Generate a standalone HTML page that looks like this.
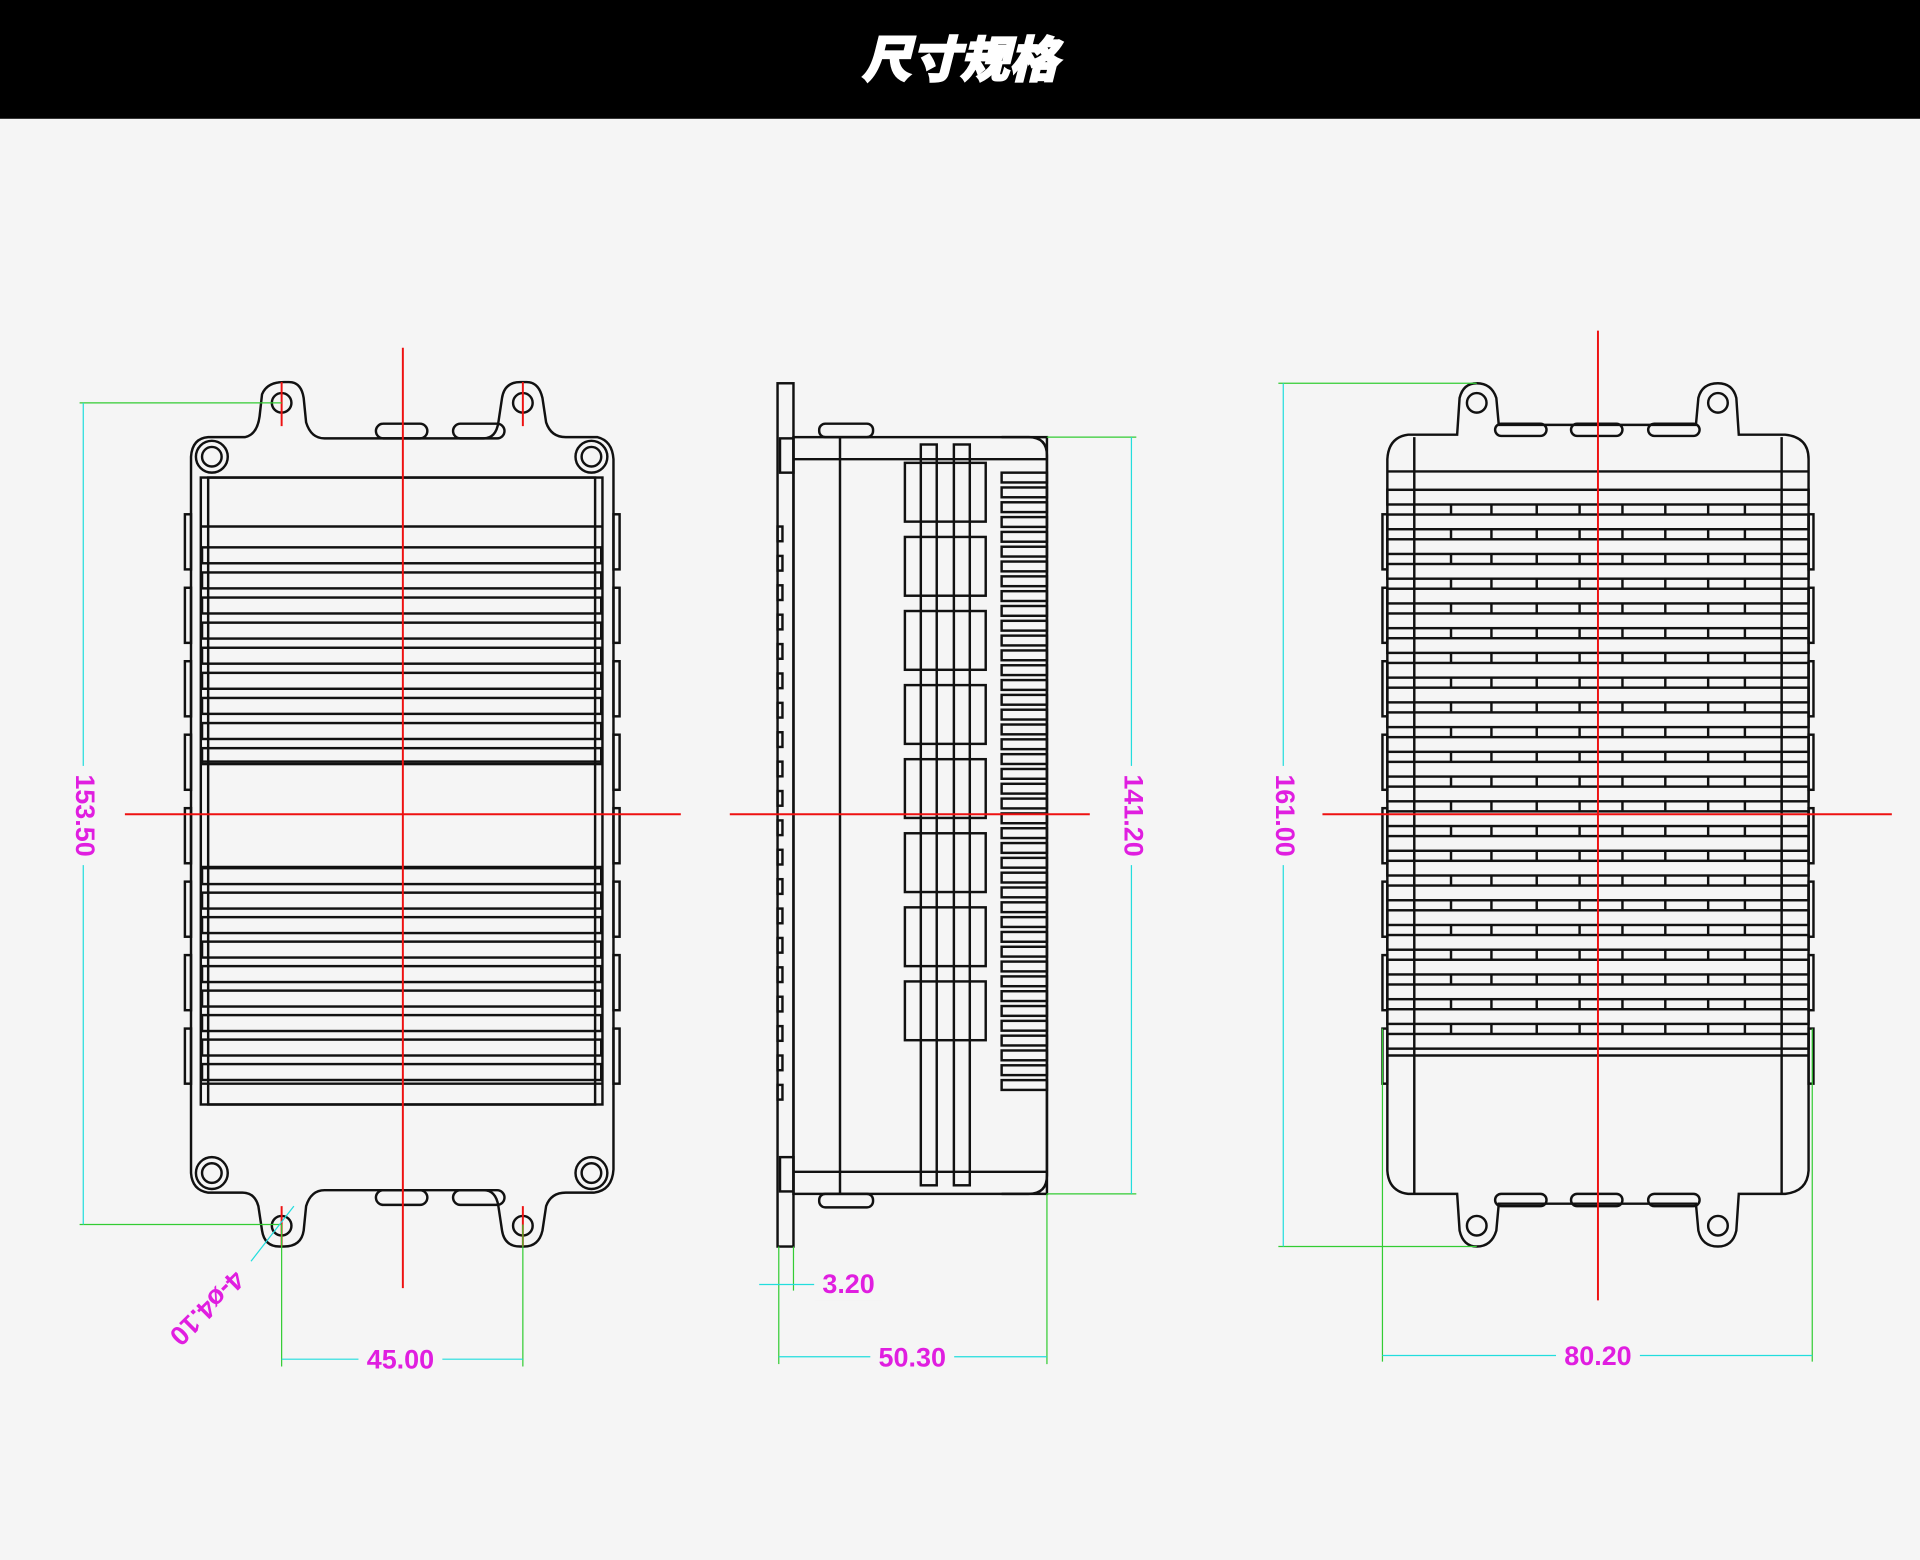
<!DOCTYPE html>
<html><head><meta charset="utf-8">
<style>
html,body{margin:0;padding:0;background:#f5f5f5;}
svg{display:block;}
</style></head>
<body>
<svg id="s" width="1920" height="1560" viewBox="0 0 1568 1274" preserveAspectRatio="none" xmlns="http://www.w3.org/2000/svg">
<rect x="0" y="0" width="1568" height="1274" fill="#f5f5f5"/>
<rect x="0" y="0" width="1568" height="97" fill="#000"/>
<text x="784" y="63" text-anchor="middle" fill="#fff" stroke="#fff" stroke-width="1.5" font-size="40" font-weight="900" font-style="italic" font-family="'Liberation Sans','Noto Sans CJK SC',sans-serif">尺寸规格</text>
<g id="g" fill="none" stroke="#111" stroke-width="2"></g>
<g id="d"></g>
</svg>
<script>
const g=document.getElementById('g'),d=document.getElementById('d');
const NS='http://www.w3.org/2000/svg';
function el(p,t,a,txt){const e=document.createElementNS(NS,t);for(const k in a)e.setAttribute(k,a[k]);if(txt)e.textContent=txt;p.appendChild(e);return e;}
function R(x,y,w,h,rx){el(g,'rect',{x,y,width:w,height:h,rx:rx||0});}
function L(x1,y1,x2,y2,c,w,p){el(p||g,'line',{x1,y1,x2,y2,stroke:c||'#111','stroke-width':w||2});}
function C(cx,cy,r){el(g,'circle',{cx,cy,r});}
function T(x,y,s,rot){const tr=rot!=null?`rotate(${rot} ${x} ${y})`:'';
 const w=s.length*12.5+6;el(d,'rect',{x:x-w/2,y:y-12,width:w,height:24,fill:'#f5f5f5',transform:tr});
 const a={x,y,fill:'#e01ee0','font-size':22,'font-weight':'bold','font-family':'Liberation Sans,sans-serif','text-anchor':'middle','dominant-baseline':'middle'};if(tr)a.transform=tr;el(d,'text',a,s);}
const cy='#22dddd',gr='#33cc33',red='#ee1111';
// LEFT
el(g,'path',{d:'M170 357 L200 357 Q210 355 212 340 L214 322 Q218 312 232 312 L236 312 Q246 312 248 325 L250 345 Q254 358 265 358 L395 358 Q405 358 407 345 L410 325 Q412 312 425 312 L430 312 Q440 312 443 325 L446 345 Q450 357 462 357 L488 357 Q500 360 501 375 L501 955 Q500 972 485 974 L462 974 Q450 974 446 985 L443 1005 Q440 1018 428 1018 L425 1018 Q412 1018 410 1005 L407 985 Q405 972 395 972 L265 972 Q254 972 250 985 L248 1005 Q246 1018 232 1018 L228 1018 Q216 1018 214 1005 L211 985 Q208 974 198 974 L170 974 Q157 972 156 958 L156 373 Q157 358 170 357 Z'});
R(164,390,328,512);R(170,390,316,512);
[[173,373],[483,373],[173,958],[483,958]].forEach(p=>{C(p[0],p[1],13);C(p[0],p[1],8);});
[[230,329],[427,329],[230,1001],[427,1001]].forEach(p=>C(p[0],p[1],8));
L(164,430,492,430);L(164,622,492,622);L(164,708,492,708);L(164,885,492,885);
for(let i=0;i<9;i++)R(165,447+i*20.5,326,13);
for(let i=0;i<9;i++)R(165,709+i*20,326,13);
for(let i=0;i<8;i++){R(151,420+i*60,5,45);R(501,420+i*60,5,45);}
R(307,346,42,12,6);R(370,346,42,12,6);R(307,972,42,12,6);R(370,972,42,12,6);
// MIDDLE
R(635,313,13,705);R(637,358,11,28);R(637,945,11,28);
R(648,357,207,618);L(648,375,855,375);L(648,957,855,957);
L(686,357,686,975);
R(752,363,13,605);R(779,363,13,605);
for(let i=0;i<8;i++){R(739,378+i*60.5,66,48);}
for(let i=0;i<42;i++)R(818,386+i*12.1,37,8);
el(g,'path',{d:'M818 357 L840 357 Q855 357 855 372 L855 960 Q855 975 840 975 L818 975'});
R(669,346,44,11,5);R(669,975,44,11,5);
for(let i=0;i<20;i++){R(635,430+i*24,4,12);}
// RIGHT
el(g,'path',{d:'M1150 355 L1190 355 L1192 325 Q1195 313 1206 313 Q1218 313 1222 325 L1224 347 L1385 347 L1387 325 Q1390 313 1403 313 Q1415 313 1418 325 L1420 355 L1458 355 Q1477 357 1477 375 L1477 956 Q1476 973 1458 975 L1420 975 L1418 1005 Q1415 1018 1403 1018 Q1390 1018 1387 1005 L1385 983 L1224 983 L1222 1005 Q1218 1018 1206 1018 Q1195 1018 1192 1005 L1190 975 L1150 975 Q1134 973 1133 956 L1133 375 Q1134 357 1150 355 Z'});
C(1206,329,8);C(1403,329,8);C(1206,1001,8);C(1403,1001,8);
L(1133,385,1477,385);L(1155,357,1155,975);L(1455,357,1455,975);L(1133,862,1477,862);
for(let i=0;i<23;i++){R(1133,400+i*20.2,344,12);}
for(let i=0;i<22;i++){const y=412+i*20.2;[1155,1185,1218,1255,1290,1325,1360,1395,1425,1455].forEach(x=>L(x,y,x,y+8.2,'#111',2));}
for(let i=0;i<8;i++){R(1129,420+i*60,4,45);R(1477,420+i*60,4,45);}
R(1221,346,42,10,5);R(1283,346,42,10,5);R(1346,346,42,10,5);
R(1221,975,42,10,5);R(1283,975,42,10,5);R(1346,975,42,10,5);
// red center lines
L(329,284,329,1052,red,1.6,d);L(102,665,556,665,red,1.6,d);
L(596,665,890,665,red,1.6,d);
L(1305,270,1305,1062,red,1.6,d);L(1080,665,1545,665,red,1.6,d);
L(230,312,230,348,red,1.6,d);L(427,312,427,348,red,1.6,d);L(230,985,230,1018,red,1.6,d);L(427,985,427,1018,red,1.6,d);
// dimensions
const W=1;
L(65,329,230,329,gr,W,d);L(65,1000,230,1000,gr,W,d);L(68,329,68,1000,cy,W,d);
L(230,1000,230,1116,gr,W,d);L(427,1000,427,1116,gr,W,d);L(230,1110,427,1110,cy,W,d);
L(240,985,205,1030,cy,W,d);
L(855,357,928,357,gr,W,d);L(855,975,928,975,gr,W,d);L(924,357,924,975,cy,W,d);
L(636,1018,636,1114,gr,W,d);L(855,975,855,1114,gr,W,d);L(636,1108,855,1108,cy,W,d);
L(648,1018,648,1054,gr,W,d);L(620,1049,665,1049,cy,W,d);
L(1044,313,1206,313,gr,W,d);L(1044,1018,1206,1018,gr,W,d);L(1048,313,1048,1018,cy,W,d);
L(1129,840,1129,1112,gr,W,d);L(1480,840,1480,1112,gr,W,d);L(1129,1107,1480,1107,cy,W,d);
T(68,666,'153.50',90);T(327,1112,'45.00');T(168,1067,'4-ø4.10',135);
T(924,666,'141.20',90);T(745,1110,'50.30');T(693,1050,'3.20');
T(1048,666,'161.00',90);T(1305,1109,'80.20');
</script>
</body></html>
